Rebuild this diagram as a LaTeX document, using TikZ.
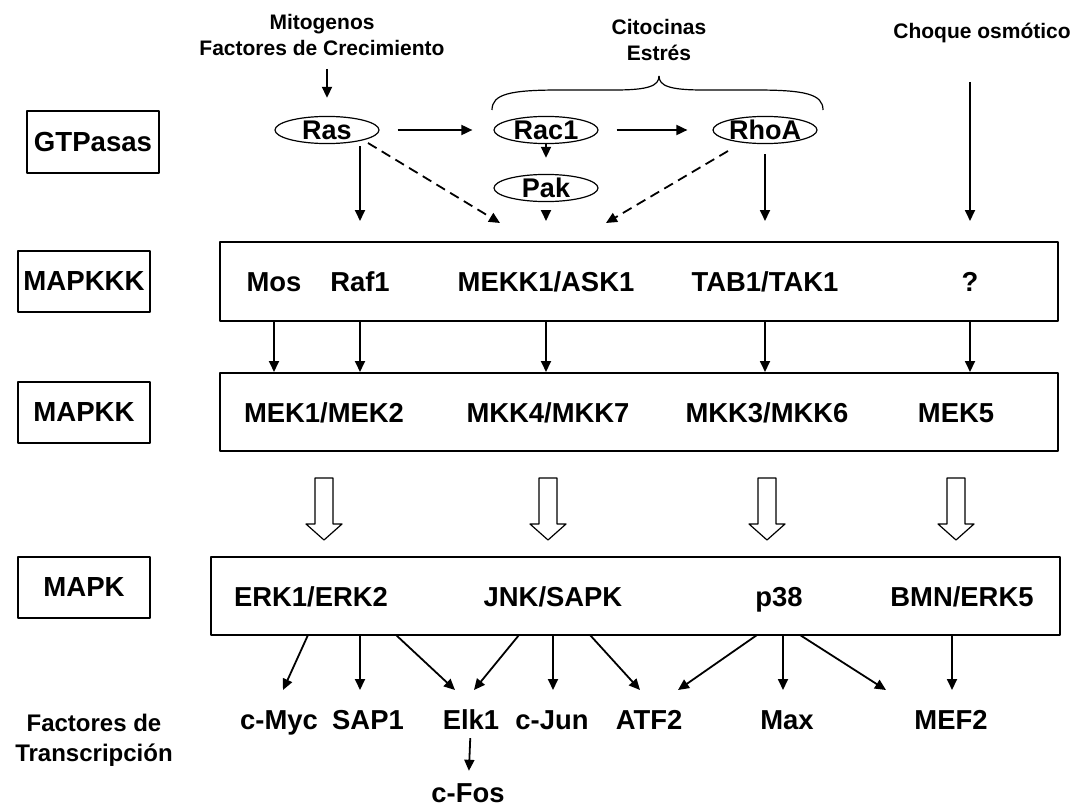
\documentclass[tikz,border=0pt]{standalone}
\usepackage{fontspec}
\setmainfont{Liberation Sans}
\usetikzlibrary{arrows.meta,shapes.geometric,calc}

\tikzset{
  lab/.style={draw, line width=1pt, minimum width=66pt, minimum height=30.5pt, inner sep=0pt,
    font=\bfseries\fontsize{13.8}{16}\selectfont},
  tier/.style={draw, line width=1pt, inner sep=0pt},
  kin/.style={font=\bfseries\fontsize{13.7}{16}\selectfont, inner sep=0pt, text height=9.8pt, text depth=0pt},
  gtp/.style={ellipse, draw, line width=0.6pt, minimum width=52pt, minimum height=13.5pt, inner sep=0pt,
    font=\bfseries\fontsize{13.5}{14}\selectfont, text height=9.6pt, text depth=0pt},
  src/.style={align=center, font=\bfseries\fontsize{10.5}{13.2}\selectfont},
  arr/.style={-{Triangle[length=5.5pt,width=5pt]}, line width=0.9pt},
  hollow/.style={draw, line width=0.6pt, fill=white},
}

\begin{document}
\begin{tikzpicture}[x=0.5pt,y=-0.5pt,line join=round]
\useasboundingbox (0,0) rectangle (1086,808);

% niveles
\node[lab] (gtpasas) at (93,142) {GTPasas};
\node[lab] (lkkk) at (84,281) {MAPKKK};
\node[lab] (lkk) at (84,412) {MAPKK};
\node[lab] (lk) at (84,587) {MAPK};
\node[align=center, font=\bfseries\fontsize{12}{15}\selectfont] (ft) at (94,740) {Factores de\\Transcripción};

% estimulos
\node[src] (mito) at (322,35) {Mitogenos\\Factores de Crecimiento};
\node[src] (cito) at (659,40) {Citocinas\\Estrés};
\node[src] (choque) at (982,33) {Choque osmótico};

% GTPasas
\node[gtp] (ras) at (327,130) {Ras};
\node[gtp] (rac) at (546,130) {Rac1};
\node[gtp] (rho) at (765,130) {RhoA};
\node[gtp] (pak) at (546,188) {Pak};

% cajas
\node[tier, minimum width=419pt, minimum height=39.5pt] (kkk) at (639,281.5) {};
\node[tier, minimum width=419pt, minimum height=39pt] (kk) at (639,412) {};
\node[tier, minimum width=424.5pt, minimum height=39pt] (mapk) at (635.5,596) {};

\node[kin] (mos) at (274,282) {Mos};
\node[kin] (raf) at (360,282) {Raf1};
\node[kin] (mekk) at (546,282) {MEKK1/ASK1};
\node[kin] (tab) at (765,282) {TAB1/TAK1};
\node[kin] (q) at (970,282) {?};

\node[kin] (mek) at (324,413) {MEK1/MEK2};
\node[kin] (mkk4) at (548,413) {MKK4/MKK7};
\node[kin] (mkk3) at (767,413) {MKK3/MKK6};
\node[kin] (mek5) at (956,413) {MEK5};

\node[kin] (erk) at (311,597) {ERK1/ERK2};
\node[kin] (jnk) at (553,597) {JNK/SAPK};
\node[kin] (p38) at (779,597) {p38};
\node[kin] (bmn) at (962,597) {BMN/ERK5};

\node[kin] (myc) at (279,720) {c-Myc};
\node[kin] (sap) at (368,720) {SAP1};
\node[kin] (elk) at (471,720) {Elk1};
\node[kin] (jun) at (552,720) {c-Jun};
\node[kin] (atf) at (649,720) {ATF2};
\node[kin] (max) at (787,720) {Max};
\node[kin] (mef) at (951,720) {MEF2};
\node[kin] (fos) at (468,793) {c-Fos};

% llave
\draw[line width=0.6pt] (492,110) .. controls (492,94) and (510,90) .. (560,90) -- (615,90)
  .. controls (648,90) and (659,86) .. (659,76);
\draw[line width=0.6pt] (823,110) .. controls (823,94) and (805,90) .. (755,90) -- (703,90)
  .. controls (670,90) and (659,86) .. (659,76);

% flechas superiores
\draw[arr, shorten <=3pt, shorten >=9pt] (mito.south -| ras) -- (ras.north);
\draw[arr, shorten <=9pt, shorten >=10.5pt] (ras) -- (rac);
\draw[arr, shorten <=9pt, shorten >=12.5pt] (rac) -- (rho);
\draw[arr, shorten >=8pt] (rac) -- (pak);
\draw[arr, shorten <=4pt, shorten >=10pt] (pak) -- (kkk.north -| pak);
\draw[arr, shorten <=1pt, shorten >=10pt] (ras.south -| raf) -- (kkk.north -| raf);
\draw[arr, shorten <=5pt, shorten >=10pt] (rho) -- (kkk.north -| rho);
\draw[arr, shorten <=16pt, shorten >=10pt] (choque.south -| q) -- (kkk.north -| q);
\coordinate (rasd) at (368,143);
\coordinate (rhod) at (728,151);
\coordinate (mkd1) at (500,223);
\coordinate (mkd2) at (606,223);
\draw[arr, dash pattern=on 5pt off 3pt] (rasd) -- (mkd1);
\draw[arr, dash pattern=on 5pt off 3pt] (rhod) -- (mkd2);

% MAPKKK -> MAPKK
\foreach \n in {mos,raf,mekk,tab,q}
  \draw[arr] (kkk.south -| \n) -- (kk.north -| \n);

% MAPKK -> MAPK
\foreach \n in {mek,mkk4,mkk3,mek5}
  \draw[hollow] ($(kk.south -| \n)+(-9,26)$) -- ++(18,0) -- ++(0,46) -- ++(9,0)
    -- ++(-18,16) -- ++(-18,-16) -- ++(9,0) -- cycle;

% MAPK -> factores
\foreach \a/\b [count=\i] in {308/283,360/360,396/455,519/474,553/553,590/640,757/678,783/783,800/886,952/952}{
  \coordinate (o\i) at (\a,635);
  \coordinate (t\i) at (\b,690);
  \draw[arr] (o\i) -- (t\i);
}
\draw[arr, shorten <=4pt, shorten >=6pt] (elk) -- (fos);
\end{tikzpicture}
\end{document}
